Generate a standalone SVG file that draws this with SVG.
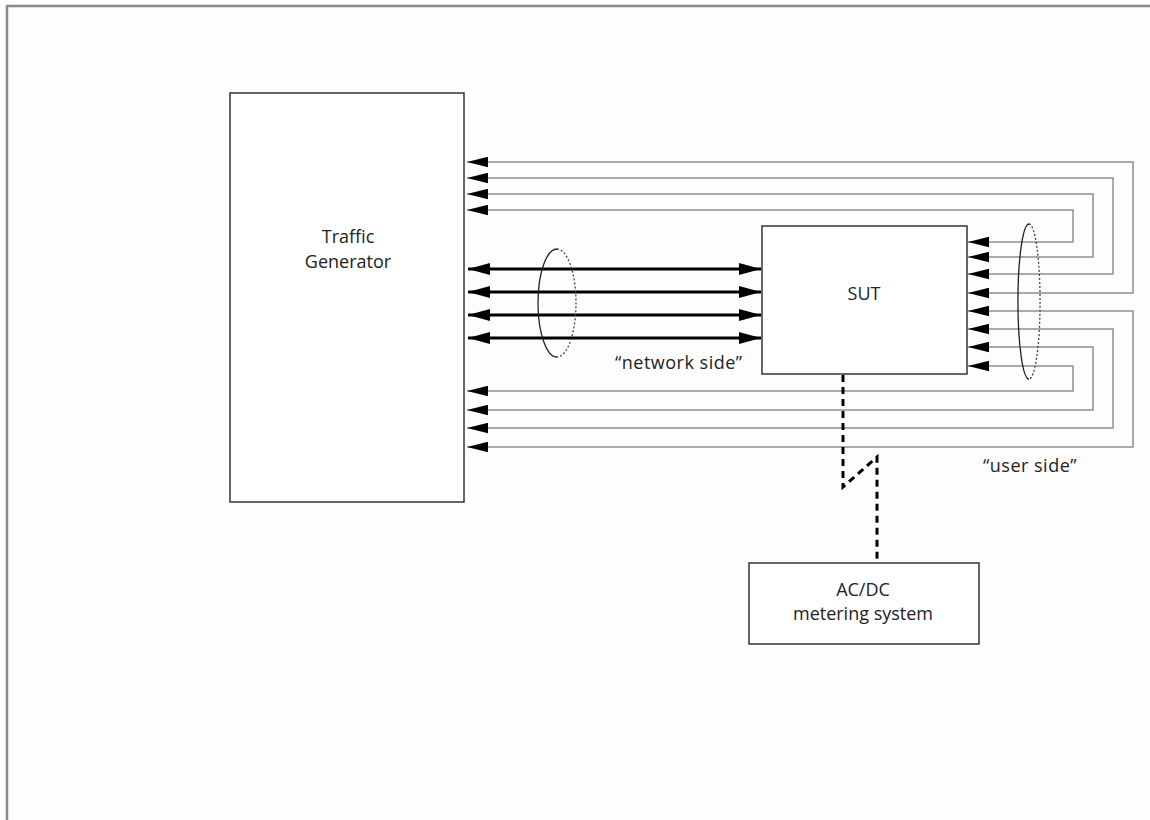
<svg xmlns="http://www.w3.org/2000/svg" width="1150" height="820" viewBox="0 0 1150 820">
<style>
.box{fill:#fff;stroke:#333;stroke-width:1.5}
.lbl{font-family:"Open Sans","Liberation Sans",sans-serif;font-size:18px;fill:#222;text-anchor:middle}
.note{font-family:"Open Sans","Liberation Sans",sans-serif;font-size:18px;fill:#222;letter-spacing:0.5px}
.gray{fill:none;stroke:#8e8e8e;stroke-width:1.5;marker-start:url(#ah);marker-end:url(#ah)}
.thick{fill:none;stroke:#000;stroke-width:3.2;marker-start:url(#ahb);marker-end:url(#ahb)}
.dash{fill:none;stroke:#000;stroke-width:3;stroke-dasharray:7 5}
.ell{fill:none;stroke:#222;stroke-width:1.3}
.ellb{fill:none;stroke:#444;stroke-width:1.3;stroke-dasharray:2 2}
</style>
<defs>
<marker id="ah" viewBox="0 0 20 10" refX="20" refY="5" markerWidth="21" markerHeight="11" markerUnits="userSpaceOnUse" orient="auto-start-reverse">
<path d="M0,0 L20,5 L0,10 z" fill="#000"/>
</marker>
<marker id="ahb" viewBox="0 0 22 12" refX="22" refY="6" markerWidth="22" markerHeight="12" markerUnits="userSpaceOnUse" orient="auto-start-reverse">
<path d="M0,0 L22,6 L0,12 z" fill="#000"/>
</marker>
</defs>
<rect width="1150" height="820" fill="#fdfdfd"/>
<path d="M7,820 V6 H1150" fill="none" stroke="#8a8a8a" stroke-width="2.5"/>
<g id="traffic-generator">
<rect class="box" x="230" y="93" width="234" height="409"/>
<text class="lbl" x="348" y="243">Traffic</text>
<text class="lbl" x="348" y="268">Generator</text>
</g>
<g id="sut">
<rect class="box" x="762" y="226" width="205" height="148"/>
<text class="lbl" x="864" y="300">SUT</text>
</g>
<g id="metering">
<rect class="box" x="749" y="563" width="230" height="81"/>
<text class="lbl" x="863" y="596">AC/DC</text>
<text class="lbl" x="863" y="620">metering system</text>
</g>
<g id="connectors">
<path class="gray" d="M968,242 H1073 V210 H467"/>
<path class="gray" d="M968,257 H1093 V194 H467"/>
<path class="gray" d="M968,274 H1113 V178 H467"/>
<path class="gray" d="M968,293 H1133 V162 H467"/>
<path class="gray" d="M968,311 H1133 V447 H467"/>
<path class="gray" d="M968,329 H1113 V428 H467"/>
<path class="gray" d="M968,347 H1093 V410 H467"/>
<path class="gray" d="M968,366 H1073 V391 H467"/>
<path class="thick" d="M468,269 H761"/>
<path class="thick" d="M468,292 H761"/>
<path class="thick" d="M468,315 H761"/>
<path class="thick" d="M468,338 H761"/>
<path class="dash" d="M843,375 V487 L877,457 V563"/>
</g>
<g id="bundles">
<path class="ell" d="M557,249 A19,54 0 0 0 557,357"/>
<path class="ellb" d="M557,249 A19,54 0 0 1 557,357"/>
<path class="ell" d="M1029,224 A11,77 0 0 0 1029,379"/>
<path class="ellb" d="M1029,224 A11,77 0 0 1 1029,379"/>
<text class="note" x="615" y="369">“network side”</text>
<text class="note" x="983" y="472">“user side”</text>
</g>
</svg>
